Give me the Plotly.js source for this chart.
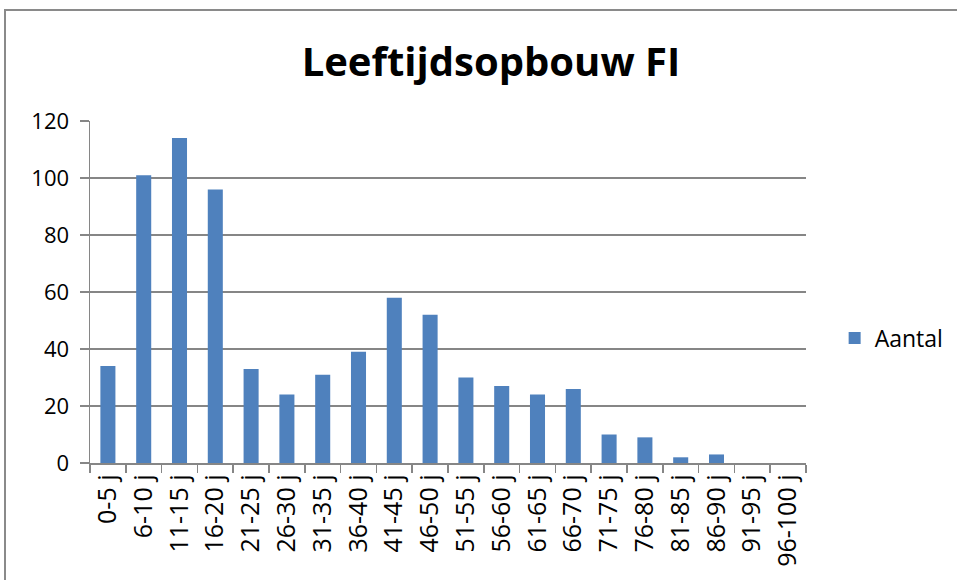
<!DOCTYPE html>
<html>
<head>
<meta charset="utf-8">
<script src="https://cdn.plot.ly/plotly-3.0.1.min.js"></script>
<style>
html,body{margin:0;padding:0;background:#fff;overflow:hidden;}
#frame{position:absolute;left:4px;top:9px;width:1100px;height:700px;border:2px solid #8a8a8a;box-sizing:border-box;}
#chart{position:absolute;left:0;top:0;width:957px;height:580px;}
</style>
</head>
<body>
<div id="frame"></div>
<div id="chart"></div>
<script>
const categories = ["0-5 j","6-10 j","11-15 j","16-20 j","21-25 j","26-30 j","31-35 j","36-40 j","41-45 j","46-50 j","51-55 j","56-60 j","61-65 j","66-70 j","71-75 j","76-80 j","81-85 j","86-90 j","91-95 j","96-100 j"];
const aantal = [34,101,114,96,33,24,31,39,58,52,30,27,24,26,10,9,2,3,0,0];
const seriesName = "Aantal";
const yTicks = [0,20,40,60,80,100,120];

const font = "Open Sans, Liberation Sans, sans-serif";
Plotly.newPlot("chart", [{
  type: "bar",
  x: categories,
  y: aantal,
  name: seriesName,
  marker: {color: "#4f81bd", line: {width: 0}},
  showlegend: true
}], {
  width: 957, height: 580,
  margin: {l: 90, r: 151, t: 121, b: 117, autoexpand: false},
  paper_bgcolor: "rgba(0,0,0,0)",
  plot_bgcolor: "rgba(0,0,0,0)",
  bargap: 0.58,
  title: {text: "<b>Leeftijdsopbouw FI</b>", font: {family: font, size: 40, color: "#000"}, x: 0.513, xanchor: "center", y: 0.893, yanchor: "middle"},
  xaxis: {
    type: "category",
    tickangle: -90,
    tickson: "boundaries",
    ticks: "outside", ticklen: 8, tickcolor: "#868686", tickwidth: 1.5,
    showline: true, linecolor: "#868686", linewidth: 1.5,
    showgrid: false,
    automargin: false,
    tickfont: {family: font, size: 25, color: "#000"}
  },
  yaxis: {
    range: [0, 120],
    tickvals: yTicks,
    ticks: "outside", ticklen: 9, tickcolor: "#868686", tickwidth: 1.5,
    showline: true, linecolor: "#868686", linewidth: 1.5,
    showgrid: true, gridcolor: "#868686", gridwidth: 1.5,
    zeroline: false,
    automargin: false,
    ticklabelstandoff: 6,
    tickfont: {family: font, size: 22, color: "#000"}
  },
  legend: {x: 1.04, xanchor: "left", y: 0.365, yanchor: "middle", font: {family: font, size: 23, color: "#000"}, itemwidth: 30, bgcolor: "rgba(0,0,0,0)"},
  showlegend: true
}, {displayModeBar: false, staticPlot: true});
</script>
</body>
</html>
